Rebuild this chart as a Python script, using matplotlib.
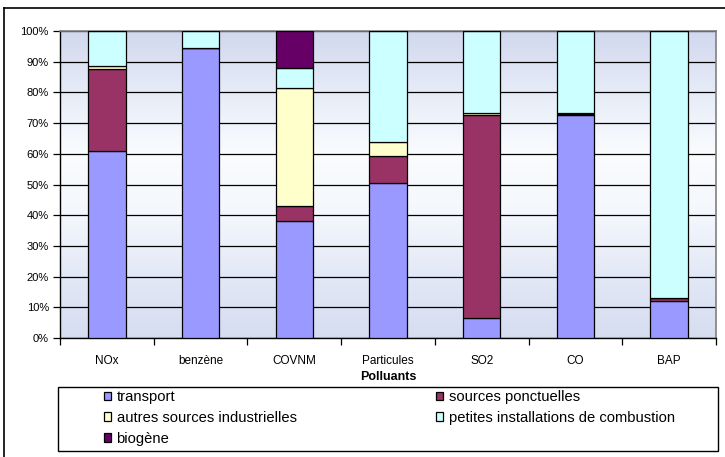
import matplotlib
matplotlib.use("Agg")
import matplotlib.pyplot as plt
from matplotlib.colors import LinearSegmentedColormap
from matplotlib.lines import Line2D
from matplotlib.patches import Rectangle
import numpy as np

plt.rcParams['font.family'] = ['Liberation Sans', 'DejaVu Sans']

polluants = ["NOx", "benzène", "COVNM", "Particules", "SO2", "CO", "BAP"]

# parts en %
transport = [61.0, 94.6, 38.0, 50.5, 6.4, 72.5, 12.0]
ponctuelles = [26.5, 0.0, 5.0, 8.7, 66.1, 0.5, 0.9]
autres_ind = [1.0, 0.0, 38.3, 4.6, 0.9, 0.3, 0.0]
petites_comb = [11.5, 5.4, 6.5, 36.2, 26.6, 26.7, 87.1]
biogene = [0.0, 0.0, 12.2, 0.0, 0.0, 0.0, 0.0]

series = [
    ("transport", transport, "#9999FF"),
    ("sources ponctuelles", ponctuelles, "#993366"),
    ("autres sources industrielles", autres_ind, "#FFFFCC"),
    ("petites installations de combustion", petites_comb, "#CCFFFF"),
    ("biogène", biogene, "#660066"),
]

W, H = 725, 457
fig = plt.figure(figsize=(W / 100, H / 100), dpi=100)
ax = fig.add_axes([60 / W, 1 - 338 / H, 656 / W, 307 / H])

# fond "ciel" approximatif
sky = LinearSegmentedColormap.from_list(
    "sky", ["#D6DDF0", "#E2E8F6", "#F4F7FC", "#FAFCFE", "#E6ECF7", "#D2D8EE"])
grad = np.linspace(0, 1, 256).reshape(-1, 1)
ax.imshow(grad, cmap=sky, aspect="auto", extent=(0, 1, 0, 1),
          transform=ax.transAxes, origin="lower", zorder=0)

x = np.arange(len(polluants))
bottom = np.zeros(len(polluants))
handles = {}
for label, vals, col in series:
    vals = np.array(vals)
    h = ax.bar(x, vals, 0.4, bottom=bottom, color=col, edgecolor="black",
               linewidth=0.9, label=label, zorder=3)
    handles[label] = h
    bottom += vals

ax.set_xlim(-0.5, len(polluants) - 0.5)
ax.set_ylim(0, 100)
ax.set_yticks(np.arange(0, 101, 10))
ax.set_yticklabels([f"{v}%" for v in range(0, 101, 10)], fontsize=8)
ax.yaxis.grid(True, color="black", linewidth=0.9, zorder=1)
ax.set_axisbelow(True)

ax.set_xticks(x)
ax.set_xticklabels(polluants, fontsize=8.5)
ax.tick_params(axis="x", length=0, pad=12)
ax.set_xticks(np.arange(-0.5, len(polluants), 1), minor=True)
ax.tick_params(axis="x", which="minor", length=5, width=0.9, color="black")
ax.tick_params(axis="y", length=5, width=0.9, pad=3)

ax.set_xlabel("Polluants", fontsize=9, fontweight="bold", labelpad=3)

for s in ["left", "bottom"]:
    ax.spines[s].set_color("black")
    ax.spines[s].set_linewidth(1.0)
for s in ["top", "right"]:
    ax.spines[s].set_color("#808080")
    ax.spines[s].set_linewidth(1.2)

# cadre de la légende
fig.add_artist(Rectangle((58 / W, 1 - 451 / H), 660 / W, 64 / H,
                         transform=fig.transFigure, facecolor="white",
                         edgecolor="black", linewidth=1.0, zorder=1))

cols = [
    (["transport", "autres sources industrielles", "biogène"], 104),
    (["sources ponctuelles", "petites installations de combustion"], 436),
]
for names, xpix in cols:
    leg = fig.legend([handles[k] for k in names], names,
                     loc="upper left", bbox_to_anchor=(xpix / W, 1 - 390 / H),
                     fontsize=10.6, frameon=False, borderpad=0,
                     handlelength=0.5, handleheight=0.5, handletextpad=0.35,
                     labelspacing=0.46, borderaxespad=0)
    leg.set_zorder(2)

# cadre extérieur (bords gauche et haut visibles)
fig.add_artist(Line2D([4 / W, 4 / W], [0, 1 - 8 / H], color="black",
                      linewidth=1.2, transform=fig.transFigure))
fig.add_artist(Line2D([4 / W, 1], [1 - 8 / H, 1 - 8 / H], color="black",
                      linewidth=1.2, transform=fig.transFigure))

fig.savefig("out.png", dpi=100)
